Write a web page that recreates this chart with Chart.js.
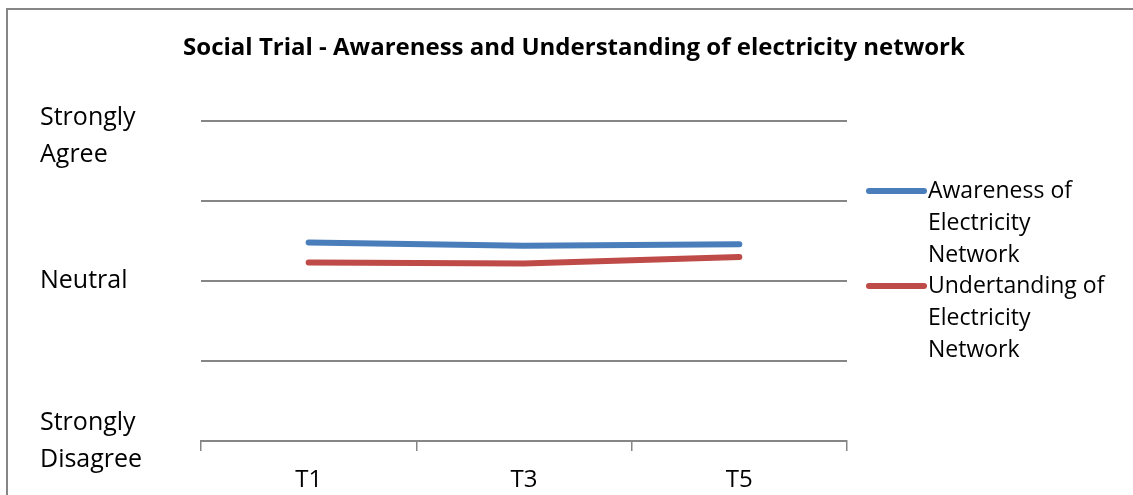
<!DOCTYPE html>
<html>
<head>
<meta charset="utf-8">
<script src="https://cdn.jsdelivr.net/npm/chart.js@4/dist/chart.umd.min.js"></script>
<style>
  html, body { margin: 0; padding: 0; background: #fff; }
  #wrap { width: 1133px; height: 495px; }
</style>
</head>
<body>
<div id="wrap"><canvas id="myChart" width="1133" height="495"></canvas></div>
<script>
// Chart data
var titleText = "Social Trial - Awareness and Understanding of electricity network";
var categories = ["T1", "T3", "T5"];
var awareness = [3.48, 3.44, 3.46];
var understanding = [3.23, 3.22, 3.30];
var seriesNames = [
  ["Awareness of", "Electricity", "Network"],
  ["Undertanding of", "Electricity", "Network"]
];
var seriesColors = ["#4a7ebb", "#be4b48"];
var yTickValues = [5, 3, 1];
var yTickLabels = [["Strongly", "Agree"], ["Neutral"], ["Strongly", "Disagree"]];

var fontFamily = "'Open Sans', sans-serif";

// white bg, left + top frame and the title
var framePlugin = {
  id: "frame",
  beforeDraw: function(chart) {
    var ctx = chart.ctx;
    ctx.save();
    ctx.fillStyle = "#fff";
    ctx.fillRect(0, 0, chart.width, chart.height);
    ctx.strokeStyle = "#868686";
    ctx.lineWidth = 2;
    ctx.beginPath();
    ctx.moveTo(7, chart.height);
    ctx.lineTo(7, 9);
    ctx.lineTo(chart.width, 9);
    ctx.stroke();
    ctx.fillStyle = "#000";
    ctx.font = "bold 24px " + fontFamily;
    ctx.textAlign = "center";
    ctx.textBaseline = "middle";
    ctx.fillText(titleText, 574, 48);
    ctx.restore();
  }
};

// y labels, wrapped like excel does it
var yLabelPlugin = {
  id: "yLabels",
  afterDraw: function(chart) {
    var ctx = chart.ctx;
    var scale = chart.scales.y;
    var lineH = 37;
    ctx.save();
    ctx.font = "25px " + fontFamily;
    ctx.fillStyle = "#000";
    ctx.textAlign = "left";
    ctx.textBaseline = "middle";
    yTickValues.forEach(function(v, i) {
      var lines = yTickLabels[i];
      var y0 = scale.getPixelForValue(v) - (lines.length - 1) * lineH / 2;
      if (y0 < chart.chartArea.top - 3) y0 = chart.chartArea.top - 3;
      lines.forEach(function(t, j) {
        ctx.fillText(t, 40, y0 + j * lineH);
      });
    });
    ctx.restore();
  }
};

// legend with wrapped names on the right
var sideLegend = {
  id: "sideLegend",
  afterDraw: function(chart) {
    var ctx = chart.ctx;
    var area = chart.chartArea;
    var lineH = 32;
    var x = area.right + 22;
    var y = area.top + 70;
    ctx.save();
    ctx.font = "23px " + fontFamily;
    ctx.textBaseline = "middle";
    ctx.textAlign = "left";
    chart.data.datasets.forEach(function(ds, i) {
      ctx.strokeStyle = ds.borderColor;
      ctx.lineWidth = 6;
      ctx.lineCap = "round";
      ctx.beginPath();
      ctx.moveTo(x, y);
      ctx.lineTo(x + 55, y);
      ctx.stroke();
      ctx.fillStyle = "#000";
      seriesNames[i].forEach(function(line, j) {
        ctx.fillText(line, x + 59, y + j * lineH);
      });
      y += seriesNames[i].length * lineH - 1;
    });
    ctx.restore();
  }
};

var chartData = {
  labels: categories,
  datasets: [
    {
      label: seriesNames[0].join(" "),
      data: awareness,
      borderColor: seriesColors[0],
      backgroundColor: seriesColors[0],
      borderWidth: 6,
      borderCapStyle: "round",
      pointRadius: 0,
      tension: 0
    },
    {
      label: seriesNames[1].join(" "),
      data: understanding,
      borderColor: seriesColors[1],
      backgroundColor: seriesColors[1],
      borderWidth: 6,
      borderCapStyle: "round",
      pointRadius: 0,
      tension: 0
    }
  ]
};

const config = {
  type: "line",
  data: chartData,
  options: {
    responsive: false,
    animation: false,
    layout: { padding: { left: 40, right: 286, top: 121, bottom: 4 } },
    plugins: {
      legend: { display: false },
      tooltip: { enabled: false },
      title: { display: false }
    },
    scales: {
      x: {
        offset: true,
        grid: {
          offset: true,
          drawOnChartArea: false,
          drawTicks: true,
          tickLength: 10,
          color: "#868686",
          lineWidth: 1.5
        },
        border: { display: true, color: "#868686", width: 2 },
        afterFit: function(scale) { scale.height = 50; },
        ticks: {
          color: "#000",
          padding: 15,
          font: { family: fontFamily, size: 24 }
        }
      },
      y: {
        min: 1,
        max: 5,
        grid: { drawTicks: false, color: "#868686", lineWidth: 2 },
        border: { display: false },
        afterFit: function(scale) { scale.width = 161; },
        ticks: { stepSize: 1, display: false }
      }
    }
  },
  plugins: [framePlugin, yLabelPlugin, sideLegend]
};
const myChart = new Chart(document.getElementById("myChart"), config);
</script>
</body>
</html>
